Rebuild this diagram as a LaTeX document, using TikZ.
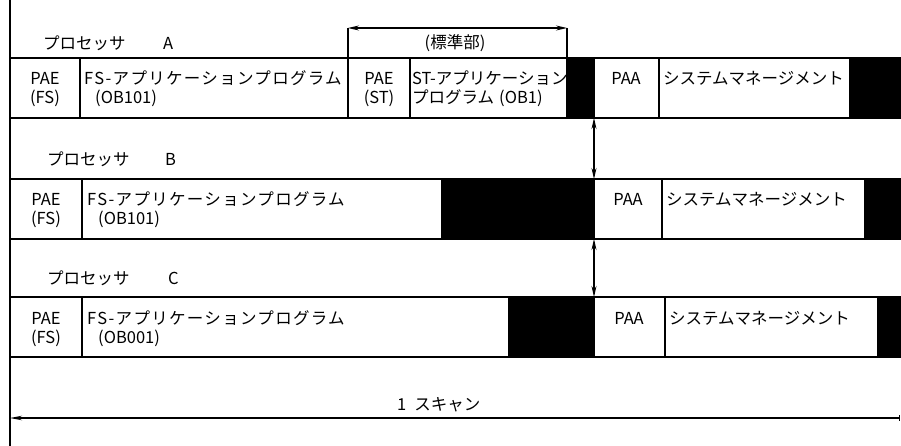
\documentclass[tikz,border=0pt]{standalone}
\usepackage{fontspec}
\setmainfont{Noto Sans CJK JP}
\usetikzlibrary{arrows.meta}
\begin{document}
\begin{tikzpicture}[x=1pt,y=-1pt,
 box/.style={draw=black,line width=1.3pt,anchor=north west,minimum height=60pt,inner sep=0pt,outer sep=0pt},
 blk/.style={box,fill=black},
 txt/.style={anchor=west,inner sep=0pt,font=\fontsize{16.5}{18}\selectfont},
 wtxt/.style={txt,font=\fontsize{16.5}{18}\selectfont\addfontfeature{LetterSpace=8}},
 ctxt/.style={anchor=center,inner sep=0pt,font=\fontsize{16.5}{18}\selectfont},
 conn/.style={line width=1.2pt},
 arr/.style={conn,{Stealth[length=11pt,width=5pt]}-{Stealth[length=11pt,width=5pt]}}
 ]
\useasboundingbox (0,0) rectangle (901,446);
% left frame line
\coordinate (lt) at (10,0);
\coordinate (lb) at (10,446);
\draw[conn] (lt) -- (lb);

% ---------- Processor A ----------
\node[txt] (labA) at (43,43) {プロセッサ};
\node[txt] (labAx) at (163,43) {A};
\node[box,minimum width=70pt] (aPAE) at (10,58) {};
\node[box,minimum width=268pt] (aFS) at (80,58) {};
\node[box,minimum width=62pt] (aPST) at (348,58) {};
\node[box,minimum width=157pt] (aST) at (410,58) {};
\node[blk,minimum width=27pt] (aBlk) at (567,58) {};
\node[box,minimum width=65pt] (aPAA) at (594,58) {};
\node[box,minimum width=191pt] (aSys) at (659,58) {};
\node[blk,minimum width=55pt] (aBlk2) at (850,58) {};
\node[ctxt] (aPAEt1) at (45,78) {PAE};
\node[ctxt] (aPAEt2) at (45,98) {(FS)};
\node[wtxt] (aFSt1) at (84,78) {FS-アプリケーションプログラム};
\node[txt] (aFSt2) at (95,98) {(OB101)};
\node[ctxt] (aPSTt1) at (379,78) {PAE};
\node[ctxt] (aPSTt2) at (379,98) {(ST)};
\node[txt] (aSTt1) at (412,78) {ST-アプリケーション};
\node[txt] (aSTt2) at (412,98) {プログラム\hspace{5pt}(OB1)};
\node[ctxt] (aPAAt) at (626,78) {PAA};
\node[txt] (aSyst) at (663,78) {システムマネージメント};
% standard part bracket
\coordinate (brL) at (348,28);
\coordinate (brR) at (567,28);
\draw[conn] (brL) -- (aPST.north west);
\draw[conn] (brR) -- (aBlk.north west);
\draw[arr] (brL) -- (brR);
\node[ctxt] (std) at (455,43) {(標準部)};

% ---------- Processor B ----------
\node[txt] (labB) at (47,159) {プロセッサ};
\node[txt] (labBx) at (165,159) {B};
\node[box,minimum width=72pt] (bPAE) at (10,179) {};
\node[box,minimum width=360pt] (bFS) at (82,179) {};
\node[blk,minimum width=152pt] (bBlk) at (442,179) {};
\node[box,minimum width=68pt] (bPAA) at (594,179) {};
\node[box,minimum width=203pt] (bSys) at (662,179) {};
\node[blk,minimum width=40pt] (bBlk2) at (865,179) {};
\node[ctxt] (bPAEt1) at (46,199) {PAE};
\node[ctxt] (bPAEt2) at (46,219) {(FS)};
\node[wtxt] (bFSt1) at (87,199) {FS-アプリケーションプログラム};
\node[txt] (bFSt2) at (98,219) {(OB101)};
\node[ctxt] (bPAAt) at (628,199) {PAA};
\node[txt] (bSyst) at (666,199) {システムマネージメント};

% ---------- Processor C ----------
\node[txt] (labC) at (47,278) {プロセッサ};
\node[txt] (labCx) at (168,278) {C};
\node[box,minimum width=72pt] (cPAE) at (10,297) {};
\node[box,minimum width=427pt] (cFS) at (82,297) {};
\node[blk,minimum width=85pt] (cBlk) at (509,297) {};
\node[box,minimum width=71pt] (cPAA) at (594,297) {};
\node[box,minimum width=213pt] (cSys) at (665,297) {};
\node[blk,minimum width=30pt] (cBlk2) at (878,297) {};
\node[ctxt] (cPAEt1) at (46,318) {PAE};
\node[ctxt] (cPAEt2) at (46,338) {(FS)};
\node[wtxt] (cFSt1) at (87,318) {FS-アプリケーションプログラム};
\node[txt] (cFSt2) at (98,338) {(OB001)};
\node[ctxt] (cPAAt) at (629,318) {PAA};
\node[txt] (cSyst) at (669,318) {システムマネージメント};

% synchronisation arrows
\draw[arr] (aBlk.south east) -- (bPAA.north west);
\draw[arr] (bPAA.south west) -- (cPAA.north west);

% scan
\coordinate (sL) at (10,418);
\coordinate (sR) at (900,418);
\draw[conn,{Stealth[length=12pt,width=4.5pt]}-{Bar[width=6pt]}] (sL) -- (sR);
\node[txt] (scan) at (397,405) {1\hspace{8pt}スキャン};
\end{tikzpicture}
\end{document}
